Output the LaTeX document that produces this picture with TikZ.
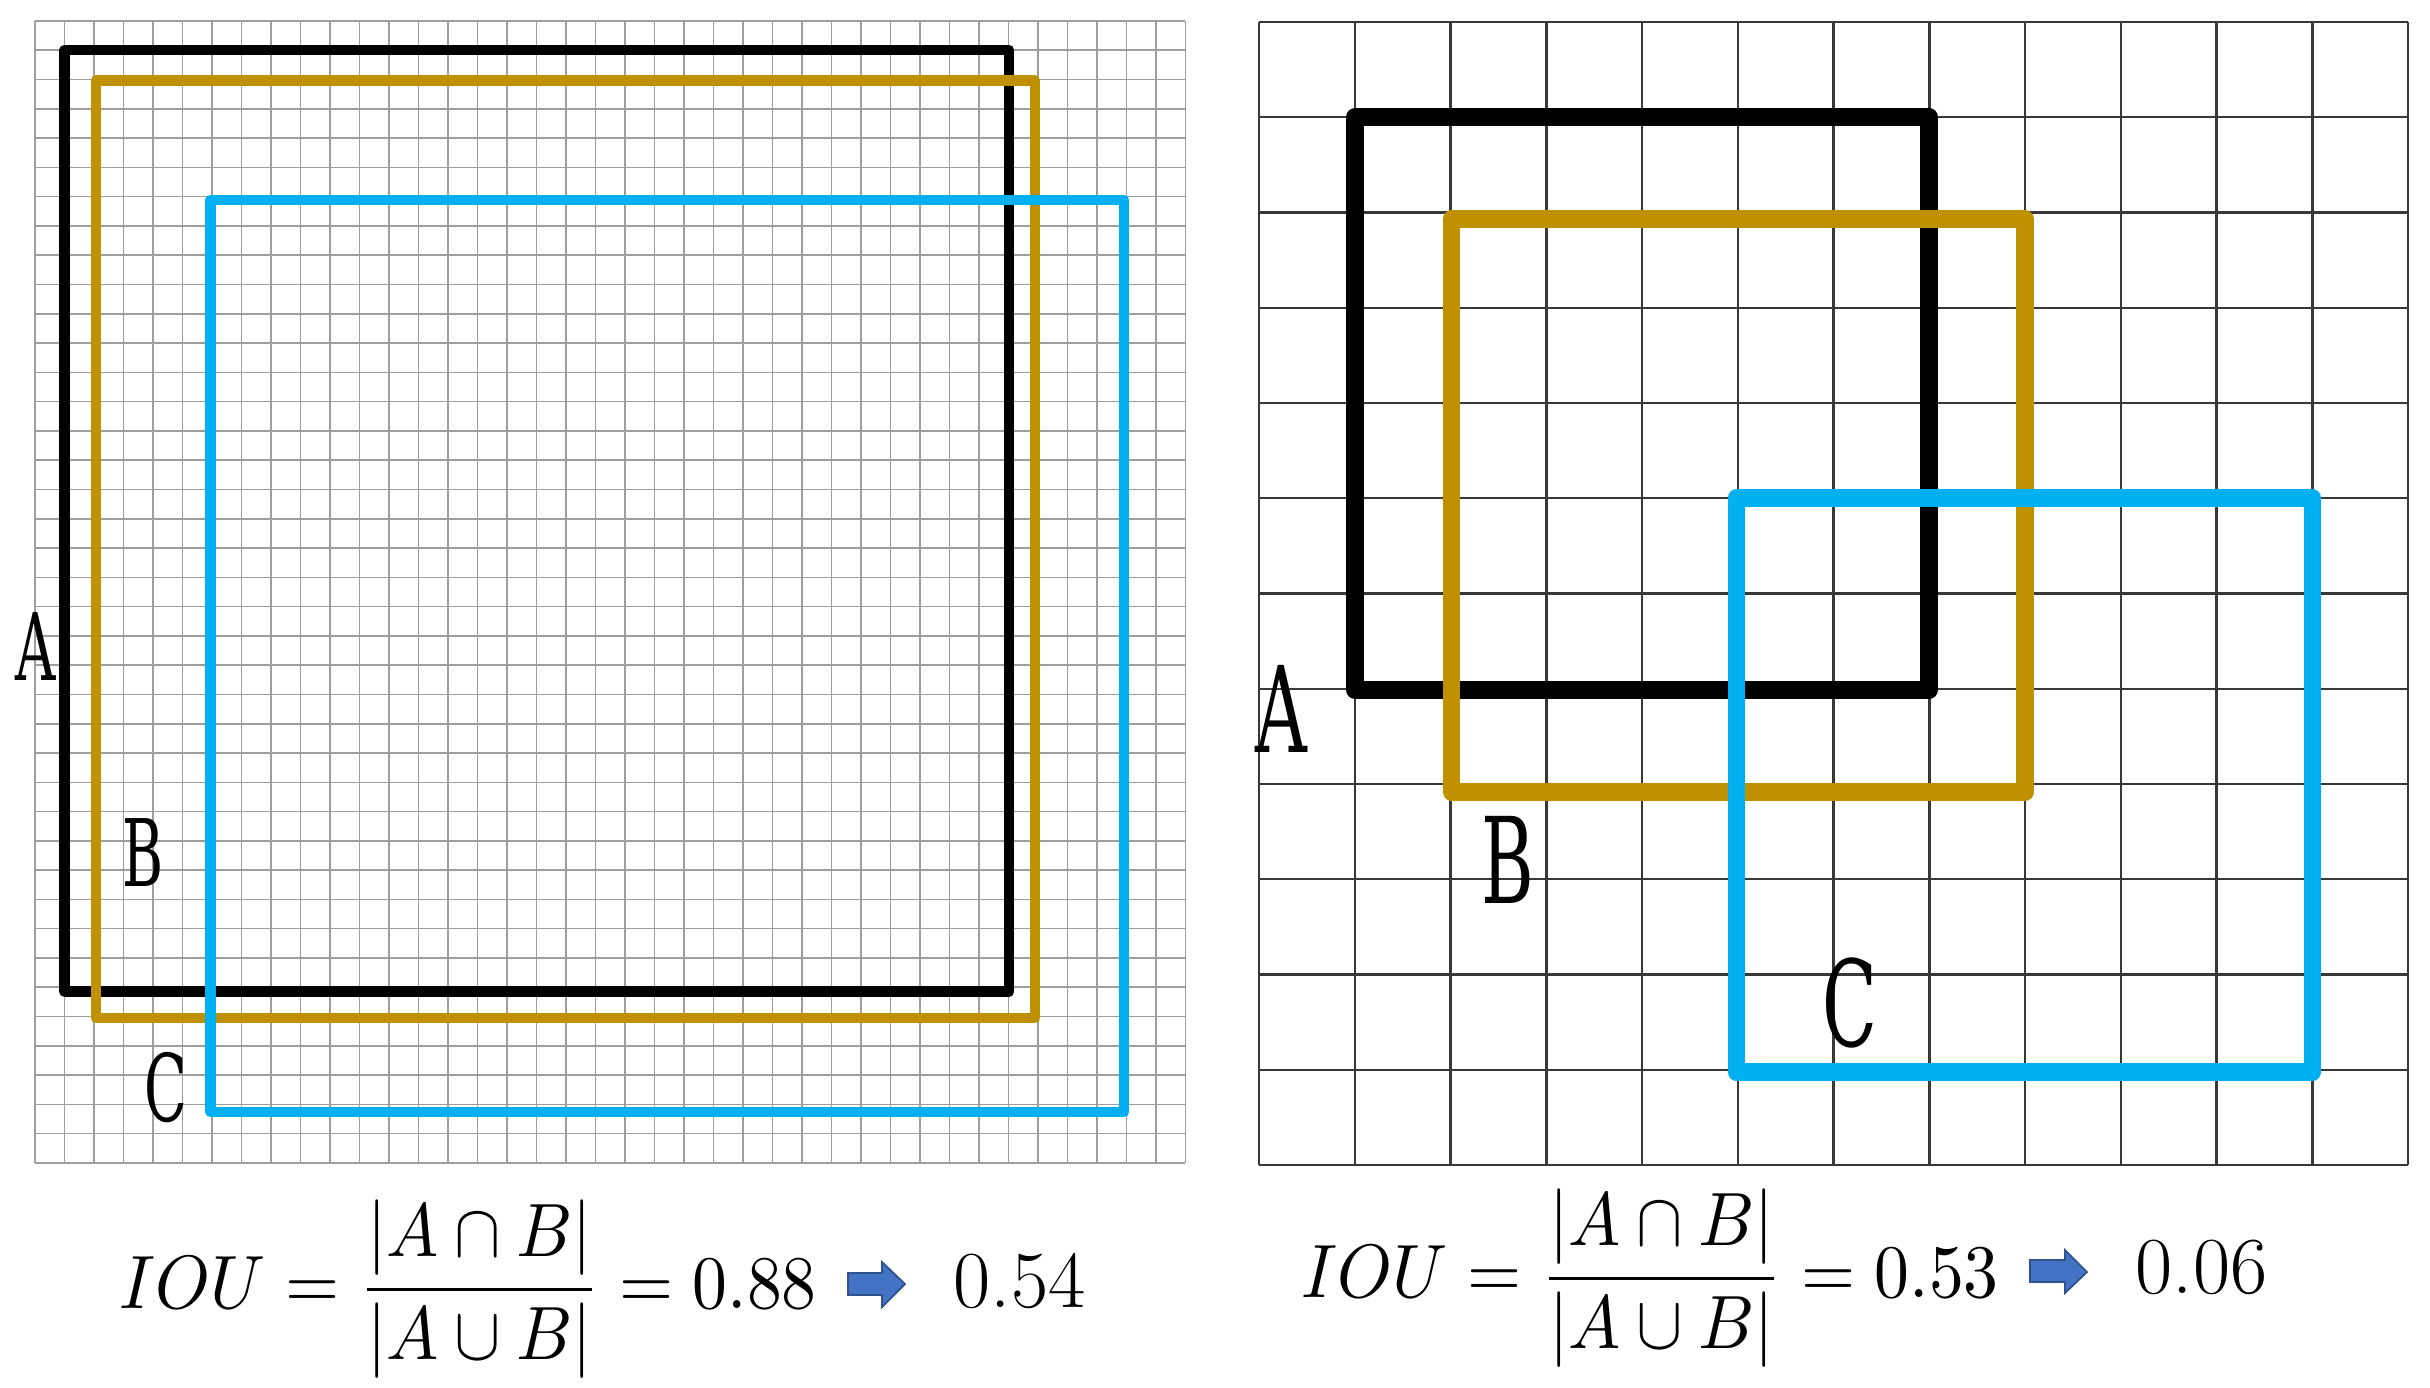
\documentclass[tikz,border=0pt]{standalone}
\usepackage{amsmath}
\usepackage{graphicx}
\usepackage{fontspec}
\newfontfamily\lblfont{DejaVu Serif}
\definecolor{boxgold}{RGB}{191,144,0}
\definecolor{boxcyan}{RGB}{0,176,240}
\definecolor{arrfill}{RGB}{68,114,196}
\definecolor{arredge}{RGB}{47,82,143}
\begin{document}
\begin{tikzpicture}[x=0.01cm,y=-0.01cm,
  finegrid/.style={draw=black!38, line width=0.45pt},
  coarsegrid/.style={draw=black!78, line width=0.7pt},
  boxline/.style={line join=round},
  thinbox/.style={boxline, line width=3.1pt},
  thickbox/.style={boxline, line width=5pt},
  lblsmall/.style={inner sep=0pt, font=\lblfont\fontsize{26.5}{30}\selectfont},
  lblbig/.style={inner sep=0pt, font=\lblfont\fontsize{34}{40}\selectfont},
  formula/.style={anchor=base west, inner sep=0pt},
  result/.style={anchor=base west, inner sep=0pt, font=\fontsize{23}{26}\selectfont},
  blockarrow/.style={fill=arrfill, draw=arredge, line width=0.5pt, line join=miter}
]
\useasboundingbox (0,0) rectangle (2430,1387);
\fill[white] (0,0) rectangle (2430,1387);

% ---------- left fine grid ----------
\foreach \i in {0,...,39} {
  \draw[finegrid] ({34.8+\i*29.5},21) -- ({34.8+\i*29.5},1163);
  \draw[finegrid] (34.8,{21+\i*29.28}) -- (1185.3,{21+\i*29.28});
}
% ---------- right coarse grid ----------
\foreach \i in {0,...,12} {
  \draw[coarsegrid] ({1259+\i*95.75},22) -- ({1259+\i*95.75},1165);
  \draw[coarsegrid] (1259,{22+\i*95.25}) -- (2408,{22+\i*95.25});
}

% ---------- left boxes ----------
\draw[thinbox, draw=black]   (64.7,50)   rectangle (1009,991.5);
\draw[thinbox, draw=boxgold] (96,80.5)   rectangle (1035,1018);
\draw[thinbox, draw=boxcyan] (210.5,200) rectangle (1124,1112);

% ---------- right boxes ----------
\draw[thickbox, draw=black]   (1355,117)    rectangle (1929,690);
\draw[thickbox, draw=boxgold] (1451.5,219)  rectangle (2025,792);
\draw[thickbox, draw=boxcyan] (1736.5,498)  rectangle (2312.5,1072);

% ---------- labels ----------
\node[lblsmall] (lA) at (35.5,647)   {\scalebox{0.6}[1]{A}};
\node[lblsmall] (lB) at (143.5,852.5) {\scalebox{0.6}[1]{B}};
\node[lblsmall] (lC) at (165.5,1087.5) {\scalebox{0.6}[1]{C}};
\node[lblbig] (rA) at (1281,709)  {\scalebox{0.6}[1]{A}};
\node[lblbig] (rB) at (1508,860)  {\scalebox{0.6}[1]{B}};
\node[lblbig] (rC) at (1850,1003) {\scalebox{0.6}[1]{C}};

% ---------- formulas ----------
\node[formula] (fL) at (119,1308)
  {\scalebox{1.98}[2.15]{$IOU=\dfrac{|A\cap B|}{|A\cup B|}=0.88$}};
\node[result] (resL) at (953,1307) {0.54};
\node[formula] (fR) at (1301,1297)
  {\scalebox{1.98}[2.15]{$IOU=\dfrac{|A\cap B|}{|A\cup B|}=0.53$}};
\node[result] (resR) at (2135,1293) {0.06};

% ---------- block arrows ----------
\draw[blockarrow] (848,1273) -- (882,1273) -- (882,1262) -- (905,1284)
  -- (882,1307) -- (882,1295) -- (848,1295) -- cycle;
\draw[blockarrow] (2030,1260) -- (2065,1260) -- (2065,1250) -- (2087,1272)
  -- (2065,1293) -- (2065,1282) -- (2030,1282) -- cycle;
\end{tikzpicture}
\end{document}
